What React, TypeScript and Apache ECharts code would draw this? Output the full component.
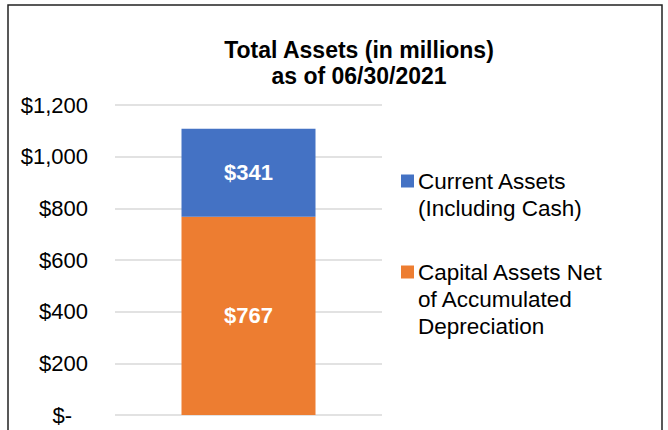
import React, { useEffect, useRef } from "react";
import * as echarts from "echarts";

const categories = ["06/30/2021"];
const seriesNames = [
  "Capital Assets Net\nof Accumulated\nDepreciation",
  "Current Assets\n(Including Cash)",
];
const seriesColors = ["#ed7d31", "#4472c4"];
const capitalAssets = [767];
const currentAssets = [341];
const yTicks = { min: 0, max: 1200, interval: 200 };
const titleLines = ["Total Assets (in millions)", "as of 06/30/2021"];

const FONT = "'Liberation Sans', Arial, sans-serif";

export default function App() {
  const ref = useRef<HTMLDivElement>(null);
  useEffect(() => {
    if (!ref.current) return;
    const chart = echarts.init(ref.current, null, { renderer: "svg" });
    const legendItems = [
      { name: seriesNames[1], color: seriesColors[1], y: 181 },
      { name: seriesNames[0], color: seriesColors[0], y: 272 },
    ];
    const legendGraphics: any[] = [];
    legendItems.forEach((it) => {
      legendGraphics.push({
        type: "rect",
        shape: { x: 401, y: it.y - 6.5, width: 13, height: 13 },
        style: { fill: it.color },
        silent: true,
      });
      legendGraphics.push({
        type: "text",
        x: 418,
        y: it.y - 13.5,
        style: {
          text: it.name,
          font: `22.5px ${FONT}`,
          fontSize: 22.5,
          fontFamily: FONT,
          lineHeight: 27,
          fill: "#000",
          verticalAlign: "top",
          align: "left",
        },
        silent: true,
      });
    });
    const label = {
      show: true,
      position: "inside",
      formatter: (p: any) => "$" + p.value,
      color: "#fff",
      fontWeight: "bold",
      fontSize: 22,
      fontFamily: FONT,
    };
    chart.setOption({
      animation: false,
      backgroundColor: "#fff",
      textStyle: { fontFamily: FONT },
      title: {
        text: titleLines.join("\n"),
        left: 354,
        textAlign: "center",
        top: 32,
        textStyle: {
          fontFamily: FONT,
          fontSize: 23,
          fontWeight: "bold",
          lineHeight: 26,
          color: "#000",
        },
      },
      graphic: [
        {
          type: "rect",
          shape: { x: 8, y: 5, width: 654, height: 440 },
          style: { fill: "none", stroke: "#222", lineWidth: 1.5 },
          silent: true,
        },
        ...legendGraphics,
      ],
      grid: { left: 115, right: 286, top: 105, bottom: 15, containLabel: false },
      xAxis: {
        type: "category",
        data: categories,
        axisLine: { show: false },
        axisTick: { show: false },
        axisLabel: { show: false },
      },
      yAxis: {
        type: "value",
        min: yTicks.min,
        max: yTicks.max,
        interval: yTicks.interval,
        axisLine: { show: false },
        axisTick: { show: false },
        splitLine: { lineStyle: { color: "#d9d9d9", width: 1.5 } },
        axisLabel: {
          margin: 27,
          fontFamily: FONT,
          fontSize: 22,
          color: "#000",
          formatter: (v: number) =>
            v === 0 ? "{z|$-}" : "$" + v.toLocaleString("en-US"),
          rich: {
            z: { fontFamily: FONT, fontSize: 22, color: "#000", padding: [0, 16, 0, 0] },
          },
        },
      },
      series: [
        {
          name: seriesNames[0],
          type: "bar",
          stack: "total",
          data: capitalAssets,
          barWidth: 134,
          itemStyle: { color: seriesColors[0] },
          label,
        },
        {
          name: seriesNames[1],
          type: "bar",
          stack: "total",
          data: currentAssets,
          barWidth: 134,
          itemStyle: { color: seriesColors[1] },
          label,
        },
      ],
    });
    return () => chart.dispose();
  }, []);
  return (
    <div
      ref={ref}
      style={{ position: "absolute", left: 0, top: 0, width: 668, height: 430 }}
    />
  );
}
